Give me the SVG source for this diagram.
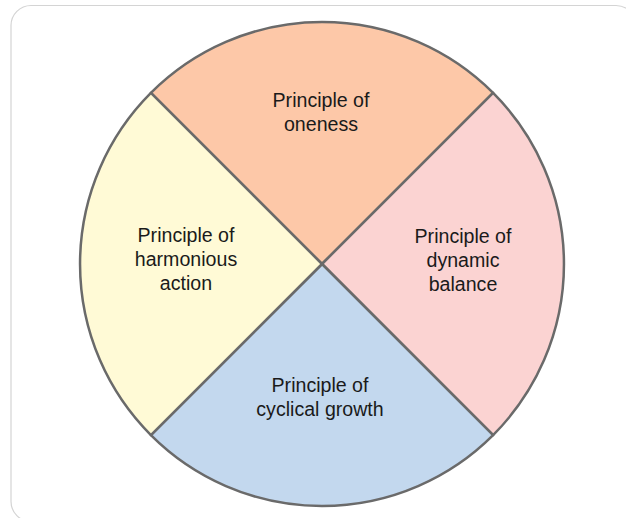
<svg xmlns="http://www.w3.org/2000/svg" width="626" height="518" viewBox="0 0 626 518">
<style>
.sec{stroke:#6a6a6a;stroke-width:2.5;stroke-linejoin:round}
.lbl{font-family:"Liberation Sans",Arial,sans-serif;font-size:19.6px;fill:#1a1a1a;text-anchor:middle}
</style>
<rect x="0" y="0" width="626" height="518" fill="#ffffff"/>
<rect x="11" y="5.5" width="625" height="516" rx="20" ry="20" fill="#ffffff" stroke="#d4d4d4" stroke-width="1.2"/>
<g id="oneness">
<path class="sec" d="M322,264 L150.9,92.9 A242,242 0 0 1 493.1,92.9 Z" fill="#fdc8a8"/>
<text class="lbl" x="321" y="107">Principle of</text>
<text class="lbl" x="321" y="131">oneness</text>
</g>
<g id="dynamic-balance">
<path class="sec" d="M322,264 L493.1,92.9 A242,242 0 0 1 493.1,435.1 Z" fill="#fbd3d2"/>
<text class="lbl" x="463" y="243">Principle of</text>
<text class="lbl" x="463" y="267">dynamic</text>
<text class="lbl" x="463" y="291">balance</text>
</g>
<g id="cyclical-growth">
<path class="sec" d="M322,264 L493.1,435.1 A242,242 0 0 1 150.9,435.1 Z" fill="#c3d8ee"/>
<text class="lbl" x="320" y="392">Principle of</text>
<text class="lbl" x="320" y="416">cyclical growth</text>
</g>
<g id="harmonious-action">
<path class="sec" d="M322,264 L150.9,435.1 A242,242 0 0 1 150.9,92.9 Z" fill="#fffad6"/>
<text class="lbl" x="186" y="242">Principle of</text>
<text class="lbl" x="186" y="266">harmonious</text>
<text class="lbl" x="186" y="290">action</text>
</g>
<g id="connectors"></g>
</svg>
